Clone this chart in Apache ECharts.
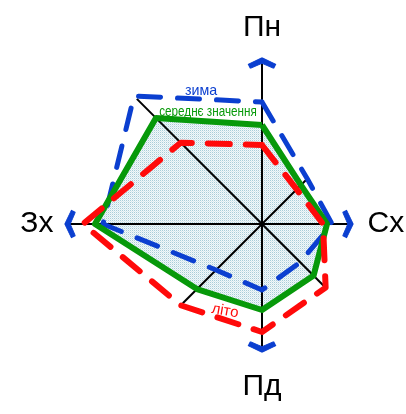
<!DOCTYPE html>
<html><head><meta charset="utf-8">
<script src="https://cdn.jsdelivr.net/npm/echarts@6/dist/echarts.min.js"></script>
<style>html,body{margin:0;padding:0;background:#fff}#c{width:406px;height:414px}</style>
</head><body><div id="c"></div>
<script>
// 8 directions, clockwise from north (degrees)
const directions = ['Пн', 'Пн-Сх', 'Сх', 'Пд-Сх', 'Пд', 'Пд-Зх', 'Зх', 'Пн-Зх'];
const angles = [0, 45, 90, 135, 180, 225, 270, 315];
const winter = [122, 64, 70, 54, 66, 65, 159, 181];   // зима
const average = [99, 55, 65, 73, 86, 92, 167, 150];   // середнє значення
const summer = [79, 49, 61, 90, 108, 115, 179, 115];  // літо
const axisLength = [166, 63, 91, 89, 128, 112, 197, 177];
const mainLabels = ['Пн', 'Сх', 'Пд', 'Зх'];
const mainIdx = [0, 2, 4, 6];

const BLUE = '#0b3fd0', GREEN = '#07990a', RED = '#ff0a0a';
const FONT = '"Liberation Sans", Arial, sans-serif';

function closed(vals) {
  const d = vals.map((v, i) => [v, angles[i]]);
  d.push(d[0]);
  return d;
}

// dotted fill pattern
const pat = document.createElement('canvas');
pat.width = 2; pat.height = 2;
const pc = pat.getContext('2d');
pc.fillStyle = '#f2f8fa'; pc.fillRect(0, 0, 2, 2);
pc.fillStyle = '#a9cdd8'; pc.fillRect(0, 0, 1, 1);
pc.fillStyle = '#d8e9ee'; pc.fillRect(1, 1, 1, 1);

const chart = echarts.init(document.getElementById('c'), null, {renderer: 'canvas'});

const axisSeries = angles.map((a, i) => ({
  type: 'line', coordinateSystem: 'polar', z: 2, silent: true,
  showSymbol: false, symbol: 'none',
  lineStyle: {color: '#000', width: 2},
  data: [[0, a], [axisLength[i], a]]
}));

const rot = {0: 0, 90: -90, 180: 180, 270: 90};
const off = {0: [0, 5], 90: [-5, 0], 180: [0, -5], 270: [5, 0]};
const pos = {0: 'top', 90: 'right', 180: 'bottom', 270: 'left'};
const dist = {0: 15, 90: 14, 180: 19, 270: 11};

const chevronData = mainIdx.map((idx, k) => {
  const a = angles[idx];
  return {
    name: mainLabels[k],
    value: [axisLength[idx], a],
    symbolRotate: rot[a],
    symbolOffset: off[a],
    label: {position: pos[a], distance: dist[a]}
  };
});

chart.setOption({
  animation: false,
  polar: {center: [262, 224], radius: 200},
  angleAxis: {type: 'value', min: 0, max: 360, startAngle: 90, clockwise: true, show: false},
  radiusAxis: {type: 'value', min: 0, max: 200, show: false},
  series: [
    {
      name: 'fill', type: 'line', coordinateSystem: 'polar', z: 1, silent: true,
      showSymbol: false, symbol: 'none',
      lineStyle: {width: 0, opacity: 0},
      areaStyle: {color: {image: pat, repeat: 'repeat'}, opacity: 1},
      data: closed(average)
    },
    ...axisSeries,
    {
      name: 'зима', type: 'line', coordinateSystem: 'polar', z: 3,
      showSymbol: false, symbol: 'none',
      lineStyle: {color: BLUE, width: 5, type: [22, 17], cap: 'round', join: 'round'},
      data: closed(winter)
    },
    {
      name: 'середнє значення', type: 'line', coordinateSystem: 'polar', z: 4,
      showSymbol: false, symbol: 'none',
      lineStyle: {color: GREEN, width: 6, join: 'round'},
      data: closed(average)
    },
    {
      name: 'літо', type: 'line', coordinateSystem: 'polar', z: 5,
      showSymbol: false, symbol: 'none',
      lineStyle: {color: RED, width: 6, type: [22, 16], cap: 'round', join: 'round'},
      data: closed(summer)
    },
    {
      name: 'axes', type: 'scatter', coordinateSystem: 'polar', z: 6, silent: true,
      symbol: 'path://M13.5,0 L27,6.5 L25,10.5 L13.5,5.5 L2,10.5 L0,6.5 Z',
      symbolSize: [27, 10.5],
      itemStyle: {color: BLUE, opacity: 1, borderColor: BLUE, borderWidth: 1, borderJoin: 'round'},
      label: {show: true, formatter: '{b}', fontSize: 30, color: '#000', fontFamily: FONT},
      data: chevronData
    }
  ],
  graphic: [
    {type: 'text', x: 201, y: 91, scaleX: 0.95, z: 10,
     style: {text: 'зима', fill: BLUE, font: '15px ' + FONT, textAlign: 'center', textVerticalAlign: 'middle'}},
    {type: 'text', x: 208, y: 112, scaleX: 0.78, z: 10,
     style: {text: 'середнє значення', fill: GREEN, font: '15px ' + FONT, textAlign: 'center', textVerticalAlign: 'middle'}},
    {type: 'text', x: 225, y: 311, rotation: -10 * Math.PI / 180, z: 10,
     style: {text: 'літо', fill: RED, font: '15px ' + FONT, textAlign: 'center', textVerticalAlign: 'middle'}}
  ]
});
</script>
</body></html>
